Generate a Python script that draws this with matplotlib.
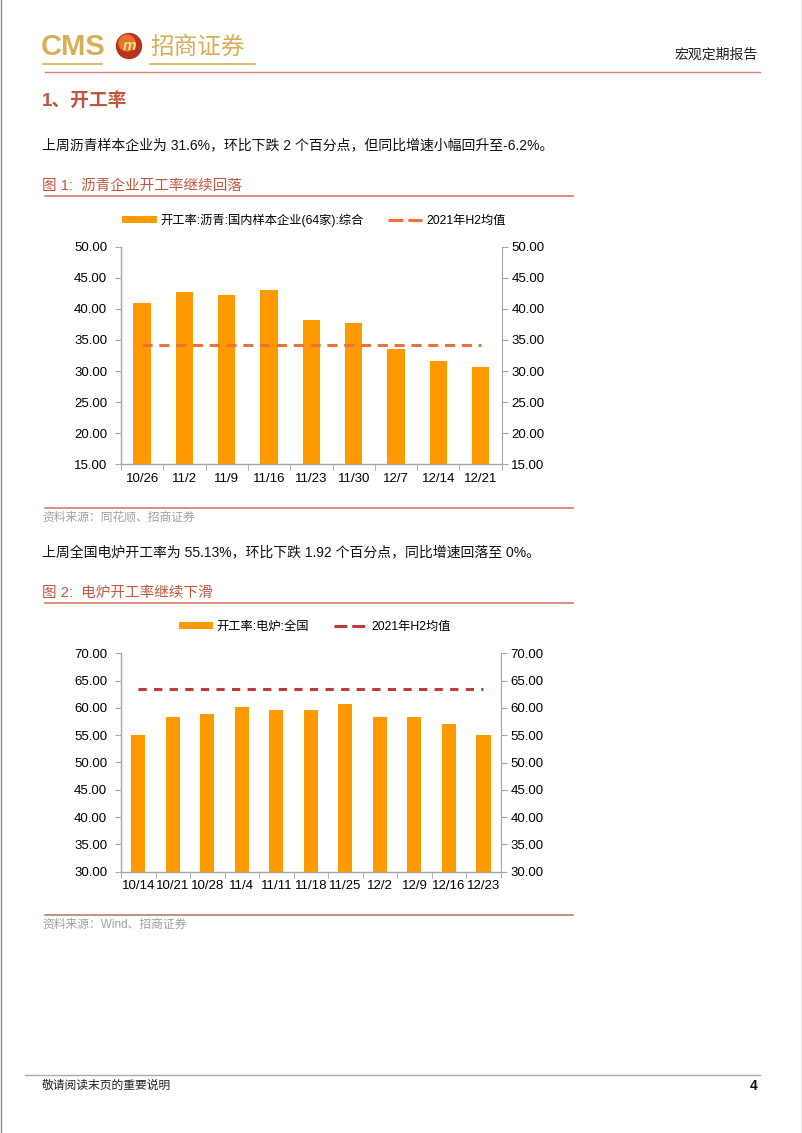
import matplotlib
matplotlib.use("Agg")
import matplotlib.pyplot as plt
from matplotlib.patches import Circle
from matplotlib.lines import Line2D
from matplotlib.patches import Patch
import numpy as np

plt.rcParams['font.family'] = ['Liberation Sans', 'Noto Sans CJK SC', 'DejaVu Sans']

# ---------------- data ----------------
cats1 = ["10/26", "11/2", "11/9", "11/16", "11/23", "11/30", "12/7", "12/14", "12/21"]
vals1 = [41.0, 42.7, 42.3, 43.0, 38.2, 37.7, 33.6, 31.6, 30.6]
avg1 = 34.2
label1_bar = "开工率:沥青:国内样本企业(64家):综合"
label1_line = "2021年H2均值"

cats2 = ["10/14", "10/21", "10/28", "11/4", "11/11", "11/18", "11/25", "12/2", "12/9", "12/16", "12/23"]
vals2 = [55.1, 58.3, 58.9, 60.2, 59.6, 59.6, 60.8, 58.3, 58.3, 57.05, 55.1]
avg2 = 63.5
label2_bar = "开工率:电炉:全国"
label2_line = "2021年H2均值"

W, H = 802, 1133
fig = plt.figure(figsize=(W / 100, H / 100), dpi=100)

BAR = "#FF9900"
AXC = "#A6A6A6"
TITLE_C = "#C0573F"
LINE_C = "#D77B68"


def px_axes(x0, y0, x1, y1):
    return fig.add_axes([x0 / W, 1 - y1 / H, (x1 - x0) / W, (y1 - y0) / H])


def make_chart(box, cats, vals, avg, ylim, yticks, line_color, dash, hdash, lab_bar, lab_line, leg_y, leg_x):
    ax = px_axes(*box)
    n = len(cats)
    x = np.arange(n)
    ax.bar(x, vals, width=0.41, color=BAR, zorder=2, label=lab_bar)
    ax.plot([0, n - 1], [avg, avg], color=line_color, lw=2.2, dashes=dash, zorder=3, label=lab_line)
    ax.set_xlim(-0.5, n - 0.5)
    ax.set_ylim(*ylim)
    ax.set_yticks(yticks)
    ax.set_yticklabels([f"{v:.2f}" for v in yticks], fontsize=9.5)
    ax.set_xticks(x)
    ax.set_xticklabels(cats, fontsize=9.5)
    ax.set_xticks(np.arange(n + 1) - 0.5, minor=True)
    ax.tick_params(axis='x', which='major', length=0, pad=6)
    ax.tick_params(axis='x', which='minor', length=4, color=AXC, direction='out')
    ax.tick_params(axis='y', length=4, color=AXC, direction='out', pad=6)
    for s in ['top', 'right']:
        ax.spines[s].set_visible(False)
    for s in ['left', 'bottom']:
        ax.spines[s].set_color(AXC)
        ax.spines[s].set_linewidth(1.0)
    ax2 = ax.twinx()
    ax2.set_ylim(*ylim)
    ax2.set_yticks(yticks)
    ax2.set_yticklabels([f"{v:.2f}" for v in yticks], fontsize=9.5)
    ax2.tick_params(axis='y', length=4, color=AXC, direction='out', pad=3)
    for s in ['top', 'left', 'bottom']:
        ax2.spines[s].set_visible(False)
    ax2.spines['right'].set_color(AXC)
    handles = [Patch(facecolor=BAR, edgecolor='none', label=lab_bar),
               Line2D([0], [0], color=line_color, lw=2.2, dashes=hdash, label=lab_line)]
    fig.legend(handles=handles, loc='center', bbox_to_anchor=(leg_x / W, 1 - leg_y / H),
               ncol=2, frameon=False, fontsize=8.8, handlelength=2.8, handleheight=0.45,
               columnspacing=2.0, handletextpad=0.3)
    return ax


make_chart((121, 246.7, 501.7, 464.3), cats1, vals1, avg1, (15, 50), np.arange(15, 50.1, 5),
           "#F0703A", (3.3, 2.2), (4.9, 1.6), label1_bar, label1_line, 220, 314)
make_chart((121, 653.3, 500.7, 871.7), cats2, vals2, avg2, (30, 70), np.arange(30, 70.1, 5),
           "#C0393B", (2.7, 2.4), (4.2, 1.6), label2_bar, label2_line, 627, 315)

# ---------------- page overlay ----------------
ov = fig.add_axes([0, 0, 1, 1], zorder=-1)
ov.set_xlim(0, W)
ov.set_ylim(H, 0)
ov.axis('off')

# page border
ov.plot([0.5, 0.5], [0, H], color="#888888", lw=1)
ov.plot([W - 0.5, W - 0.5], [0, H], color="#888888", lw=1)

# header
ov.text(41, 47, "CMS", fontsize=21, color="#D9AE55", va='center', ha='left',
        family=['Liberation Sans Narrow', 'Liberation Sans'], fontweight='bold')
ov.add_patch(Circle((129, 46), 12.5, color="#B8321F"))
ov.add_patch(Circle((127, 43), 8, color="#E2762A"))
ov.text(129, 46, "m", fontsize=11, color="#FFE08A", ha='center', va='center', fontweight='bold', style='italic')
ov.text(150, 47, "招商证券", fontsize=17, color="#D9AE55", va='center', ha='left',
        family=['Noto Sans CJK SC'])
ov.plot([43, 102], [64, 64], color="#D9AE55", lw=1.2)
ov.plot([150, 255], [64, 64], color="#D9AE55", lw=1.2)
ov.text(758, 55, "宏观定期报告", fontsize=10, color="#222222", ha='right', va='center',
        family=['Noto Sans CJK SC'])
ov.plot([45, 760], [72, 72], color="#D9827A", lw=1)

ov.text(42, 101, "1、开工率", fontsize=13.5, color=TITLE_C, ha='left', va='center', fontweight='bold')
ov.text(42, 145, "上周沥青样本企业为 31.6%，环比下跌 2 个百分点，但同比增速小幅回升至-6.2%。",
        fontsize=10, color="#111111", ha='left', va='center')
ov.text(42, 186, "图 1:  沥青企业开工率继续回落", fontsize=10.5, color=TITLE_C, ha='left', va='center')
ov.plot([45, 573], [196, 196], color=LINE_C, lw=1.2)

ov.plot([45, 573], [508, 508], color=LINE_C, lw=1.2)
ov.text(42, 518, "资料来源：同花顺、招商证券", fontsize=8.5, color="#A0A0A0", ha='left', va='center')

ov.text(42, 552, "上周全国电炉开工率为 55.13%，环比下跌 1.92 个百分点，同比增速回落至 0%。",
        fontsize=10, color="#111111", ha='left', va='center')
ov.text(42, 593, "图 2:  电炉开工率继续下滑", fontsize=10.5, color=TITLE_C, ha='left', va='center')
ov.plot([45, 573], [603, 603], color=LINE_C, lw=1.2)

ov.plot([45, 573], [915, 915], color="#C07A70", lw=1.2)
ov.text(42, 925, "资料来源：Wind、招商证券", fontsize=8.5, color="#A0A0A0", ha='left', va='center')

# footer
ov.plot([25, 760], [1075, 1075], color="#AAAAAA", lw=1)
ov.text(42, 1086, "敬请阅读末页的重要说明", fontsize=8.5, color="#222222", ha='left', va='center')
ov.text(758, 1086, "4", fontsize=10, color="#111111", ha='right', va='center', fontweight='bold')

fig.savefig("out.png", dpi=100)
